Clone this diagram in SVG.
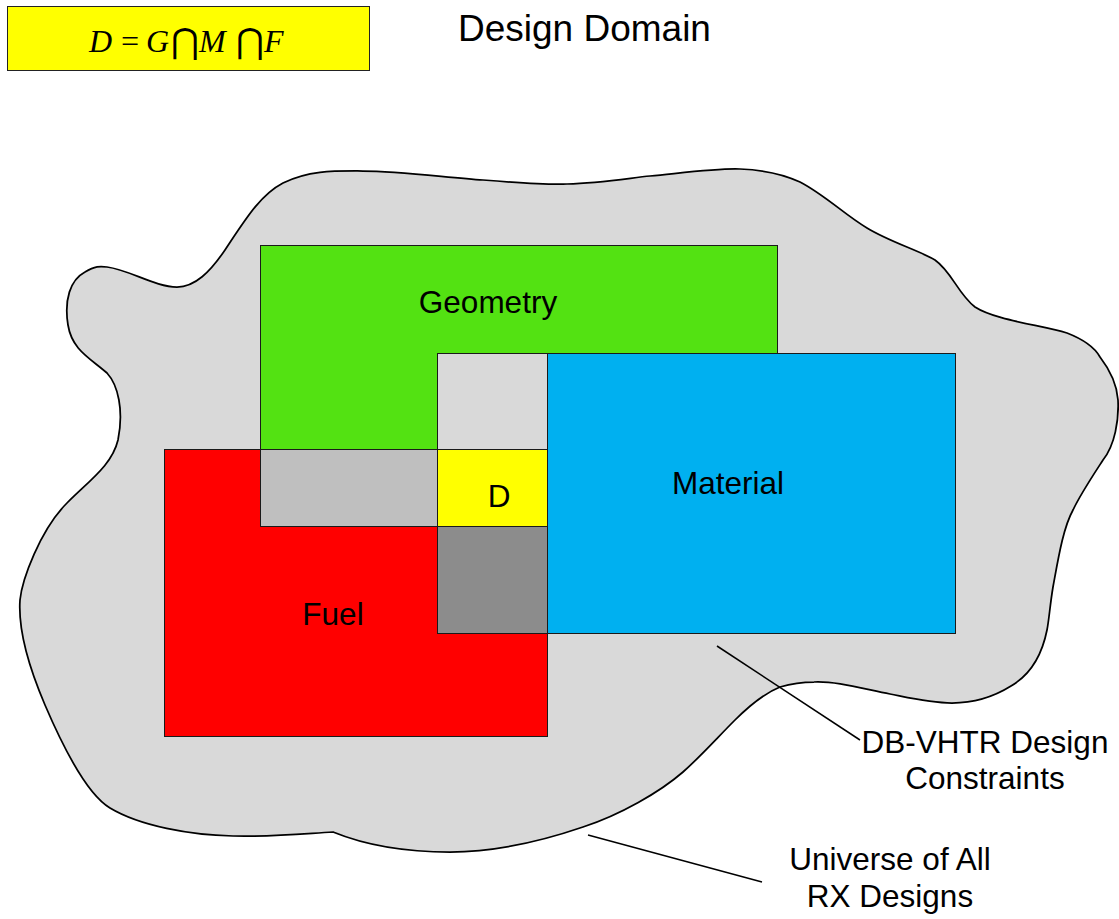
<svg xmlns="http://www.w3.org/2000/svg" width="1119" height="919" viewBox="0 0 1119 919">
  <style>
    .lbl { font-family: "Liberation Sans", Arial, sans-serif; fill: #000; }
    .set { stroke: #1a1a1a; stroke-width: 1; }
    .lead { stroke: #000; stroke-width: 1.5; fill: none; }
    .math { font-family: "Liberation Serif", "Times New Roman", serif; font-style: italic; font-size: 32px; fill: #000; }
    .op { font-family: "DejaVu Serif", "Liberation Serif", serif; font-style: normal; fill: #000; }
  </style>

  <!-- formula box -->
  <g id="formula">
    <rect x="7.5" y="6.5" width="362" height="64" fill="#FFFF00" stroke="#222" stroke-width="1"/>
    <text class="math" x="89" y="52">D</text>
    <text class="math" x="119" y="52" font-style="normal" font-size="34">=</text>
    <text class="math" x="146" y="52">G</text>
    <text class="op" x="171" y="53" font-size="34">⋂</text>
    <text class="math" x="199" y="52">M</text>
    <text class="op" x="236" y="53" font-size="34">⋂</text>
    <text class="math" x="264" y="52">F</text>
  </g>

  <g id="title">
    <text class="lbl" x="458" y="41" font-size="37">Design Domain</text>
  </g>

  <!-- universe of all designs -->
  <g id="universe">
    <path fill="#D9D9D9" stroke="#000" stroke-width="1.75" d="M 107,267
      C 130,270 155,287 177,287
      C 195,287 210,272 225,250
      C 245,220 260,195 283,183
      C 310,170 335,171 363,171
      C 400,171 450,178 483,180
      C 520,183 545,185 567,184
      C 600,183 630,178 650,176
      C 690,172 720,168 740,169
      C 765,170 785,175 800,182
      C 825,195 845,215 867,228
      C 890,242 918,250 935,260
      C 952,272 958,294 975,307
      C 995,320 1040,325 1067,333
      C 1085,340 1095,348 1100,357
      C 1110,370 1117,385 1118,400
      C 1119,420 1115,445 1103,460
      C 1090,480 1080,495 1073,510
      C 1063,528 1058,560 1053,587
      C 1050,605 1049,620 1047,630
      C 1042,655 1030,675 1011,686
      C 995,696 975,703 952,703
      C 930,703 910,698 890,694
      C 860,688 835,681 814,682
      C 800,682 790,684 780,687
      C 765,693 750,705 735,720
      C 718,737 700,757 683,772
      C 660,792 620,815 583,827
      C 545,840 500,852 450,852
      C 400,852 360,843 333,832
      C 300,834 270,837 233,836
      C 190,835 140,826 110,808
      C 85,793 60,740 45,705
      C 30,670 18,630 20,600
      C 22,580 40,530 67,503
      C 90,480 112,465 118,440
      C 124,410 118,385 107,373
      C 90,358 72,350 68,325
      C 64,300 70,280 85,272
      C 95,266 100,266 107,267 Z"/>
  </g>

  <!-- constraint sets -->
  <g id="geometry">
    <rect class="set" x="260.5" y="245.5" width="517" height="281" fill="#53E212"/>
    <text class="lbl" x="488" y="313" font-size="31.5" text-anchor="middle">Geometry</text>
  </g>
  <g id="fuel">
    <rect class="set" x="164.5" y="449.5" width="383" height="287" fill="#FF0000"/>
    <text class="lbl" x="333" y="625" font-size="31.5" text-anchor="middle">Fuel</text>
  </g>
  <g id="material">
    <rect class="set" x="437.5" y="353.5" width="518" height="280" fill="#00B0F0"/>
    <text class="lbl" x="728" y="494" font-size="31.5" text-anchor="middle">Material</text>
  </g>

  <!-- intersections -->
  <g id="geometry-material">
    <rect class="set" x="437.5" y="353.5" width="110" height="96" fill="#D9D9D9"/>
  </g>
  <g id="geometry-fuel">
    <rect class="set" x="260.5" y="449.5" width="177" height="77" fill="#BFBFBF"/>
  </g>
  <g id="material-fuel">
    <rect class="set" x="437.5" y="526.5" width="110" height="107" fill="#8C8C8C"/>
  </g>
  <g id="design-domain">
    <rect class="set" x="437.5" y="449.5" width="110" height="77" fill="#FFFF00"/>
    <text class="lbl" x="499" y="507" font-size="31.5" text-anchor="middle">D</text>
  </g>

  <!-- callout leaders -->
  <g id="connectors">
    <line class="lead" x1="717" y1="646" x2="860" y2="740"/>
    <line class="lead" x1="588" y1="835" x2="762" y2="882"/>
  </g>

  <g id="label-constraints">
    <text class="lbl" x="985" y="753" font-size="31.5" text-anchor="middle">DB-VHTR Design</text>
    <text class="lbl" x="985" y="789" font-size="31.5" text-anchor="middle">Constraints</text>
  </g>
  <g id="label-universe">
    <text class="lbl" x="890" y="870" font-size="31.5" text-anchor="middle">Universe of All</text>
    <text class="lbl" x="890" y="907" font-size="31.5" text-anchor="middle">RX Designs</text>
  </g>
</svg>
